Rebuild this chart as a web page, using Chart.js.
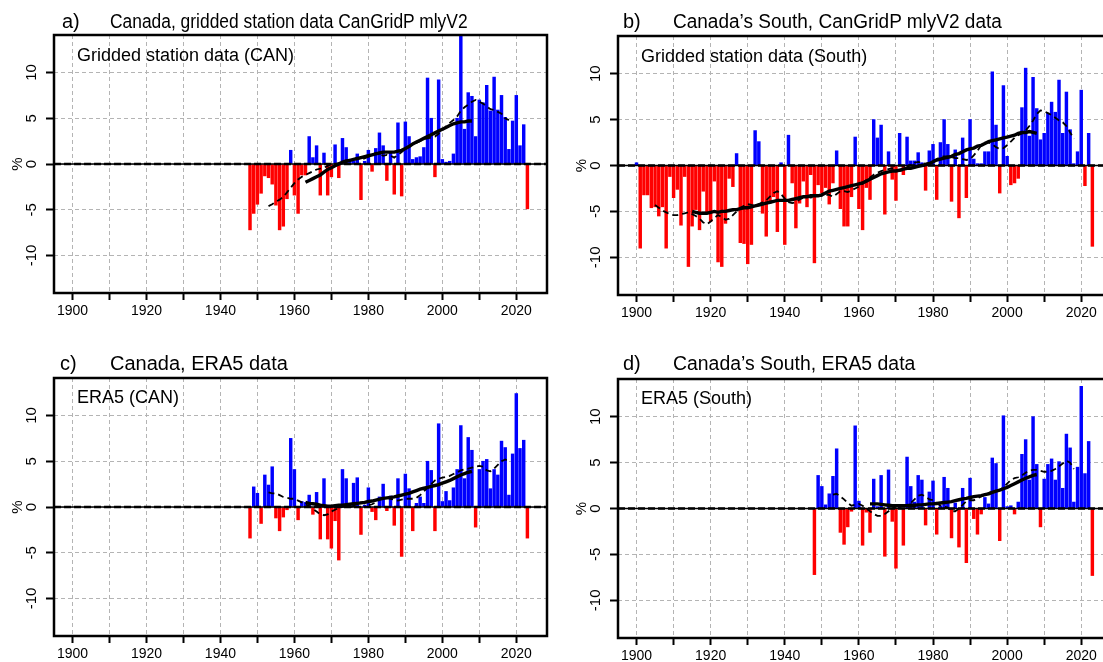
<!DOCTYPE html>
<html><head><meta charset="utf-8">
<script src="https://cdn.jsdelivr.net/npm/chart.js@4.4.1/dist/chart.umd.min.js"></script>
<style>
html,body{margin:0;padding:0;background:#fff;width:1103px;height:662px;overflow:hidden;position:relative}
canvas{position:absolute}
.t{position:absolute;font-family:"Liberation Sans",Arial,sans-serif;font-size:20px;color:#000;white-space:nowrap;line-height:1;transform-origin:0 50%}
.lab{position:absolute;font-family:"Liberation Sans",Arial,sans-serif;font-size:18px;color:#000;white-space:nowrap;line-height:1}
</style></head><body>
<canvas id="ca" width="551" height="335" style="left:0;top:0"></canvas>
<canvas id="cb" width="552" height="337" style="left:564px;top:0"></canvas>
<canvas id="cc" width="551" height="335" style="left:0;top:343px"></canvas>
<canvas id="cd" width="552" height="337" style="left:564px;top:343px"></canvas>

<div class="t" style="left:62px;top:11px">a)</div>
<div class="t" style="left:110px;top:11px;transform:scaleX(0.87)">Canada, gridded station data CanGridP mlyV2</div>
<div class="t" style="left:623px;top:11px">b)</div>
<div class="t" style="left:673px;top:11px;transform:scaleX(0.95)">Canada’s South, CanGridP mlyV2 data</div>
<div class="t" style="left:60px;top:353px">c)</div>
<div class="t" style="left:110px;top:353px">Canada, ERA5 data</div>
<div class="t" style="left:623px;top:353px">d)</div>
<div class="t" style="left:673px;top:353px;transform:scaleX(0.97)">Canada’s South, ERA5 data</div>

<div class="lab" style="left:77px;top:46px">Gridded station data (CAN)</div>
<div class="lab" style="left:641px;top:47px">Gridded station data (South)</div>
<div class="lab" style="left:77px;top:388px">ERA5 (CAN)</div>
<div class="lab" style="left:641px;top:389px">ERA5 (South)</div>

<script>
// ---------- Panel a: Canada, gridded station data (1948-2023) ----------
const aStart = 1948;
const aBars = [-7.2,-5.4,-4.4,-3.2,-1.3,-1.5,-2.2,-4.5,-7.2,-6.8,
  -3.8,1.5,-3.4,-5.4,-1.2,-1.2,3.0,0.7,2.0,-3.4,
  1.2,-3.4,-1.4,2.1,-1.5,2.8,1.8,0.4,0.3,1.1,
  -3.9,0.3,1.5,-0.8,1.7,3.4,2.0,-1.8,1.2,-3.3,
  4.5,-3.5,4.6,3.0,0.5,0.7,0.8,1.8,9.4,5.0,
  -1.4,9.2,0.5,0.2,0.3,1.1,5.0,14.0,3.8,7.8,
  7.4,3.0,7.0,6.7,8.6,5.8,9.5,5.9,7.5,5.1,
  1.6,4.7,7.5,2.0,4.3,-4.9];
const aSolidStart = 1963;
const aSolid = [-2.0,-1.8,-1.6,-1.4,-1.2,-0.9,-0.6,-0.4,-0.2,0.0,
  0.2,0.3,0.4,0.5,0.6,0.7,0.8,0.9,1.0,1.1,
  1.2,1.3,1.3,1.3,1.3,1.4,1.5,1.7,1.9,2.2,
  2.4,2.6,2.8,3.0,3.2,3.4,3.6,3.8,4.0,4.2,
  4.4,4.5,4.6,4.6,4.7,4.7];
const aDashStart = 1953;
const aDash = [-4.6,-4.4,-4.1,-3.9,-3.6,-3.1,-2.6,-2.1,-1.7,-1.4,
  -1.2,-1.0,-0.8,-0.6,-0.5,-0.4,-0.2,-0.1,0.0,0.1,
  0.3,0.4,0.5,0.5,0.6,0.5,0.6,0.8,1.0,1.2,
  1.1,0.9,1.0,0.9,0.7,1.0,1.3,1.7,2.0,2.2,
  2.3,2.5,2.7,2.8,2.9,3.0,3.3,3.7,4.1,4.5,
  4.8,5.2,5.8,6.2,6.5,6.8,7.0,6.8,6.6,6.3,
  6.0,5.9,5.7,5.5,5.0,4.8];

// ---------- Panel b: Canada's South, gridded station data (1900-2023) ----------
const bStart = 1900;
const bBars = [0.3,-9.0,-3.2,-3.2,-4.6,-4.5,-5.5,-4.5,-9.0,-1.2,
  -3.5,-2.6,-6.5,-1.2,-11.0,-6.6,-4.8,-7.0,-2.8,-5.2,
  -6.1,-1.7,-10.5,-11.0,-6.3,-1.4,-2.3,1.3,-8.4,-8.5,
  -10.7,-8.6,3.8,2.6,-5.2,-7.7,-4.1,-3.4,-7.2,0.3,
  -8.6,3.3,-1.9,-6.8,-4.1,-1.7,-4.5,-1.0,-10.6,-2.1,
  -3.0,-2.4,-4.2,-1.9,1.6,-4.7,-6.6,-6.6,-3.4,3.1,
  -4.7,-7.0,-2.4,-3.7,5.0,3.0,4.4,-5.3,1.5,-1.5,
  -3.8,3.5,-1.0,3.1,0.5,0.5,1.4,0.3,-2.7,1.6,
  2.3,-3.7,2.5,5.0,2.3,-3.9,1.7,-5.7,3.0,-3.5,
  5.0,0.7,0.2,0.2,1.5,1.5,10.2,4.4,-3.0,8.7,
  1.0,-2.1,-1.9,-1.4,6.3,10.6,3.2,9.6,6.2,2.8,
  3.5,5.7,6.9,5.8,9.3,3.5,8.0,3.9,0.2,1.5,
  8.2,-2.2,3.5,-8.8];
const bSolidStart = 1915;
const bSolid = [-5.0,-5.1,-5.2,-5.2,-5.2,-5.1,-5.0,-5.1,-5.0,-5.0,
  -4.9,-4.8,-4.8,-4.7,-4.6,-4.6,-4.5,-4.4,-4.3,-4.2,
  -4.1,-4.0,-3.9,-3.8,-3.8,-3.8,-3.8,-3.7,-3.6,-3.5,
  -3.4,-3.4,-3.3,-3.3,-3.3,-3.2,-3.0,-2.8,-2.7,-2.6,
  -2.5,-2.4,-2.3,-2.2,-2.1,-2.0,-1.9,-1.7,-1.5,-1.3,
  -1.1,-0.9,-0.8,-0.7,-0.6,-0.6,-0.5,-0.4,-0.3,-0.3,
  -0.2,-0.1,0.0,0.1,0.2,0.4,0.6,0.7,0.8,0.9,
  1.0,1.2,1.3,1.5,1.7,1.8,1.9,2.1,2.2,2.4,
  2.6,2.7,2.8,2.9,3.0,3.1,3.2,3.3,3.5,3.6,
  3.6,3.7,3.6,3.5];
const bDashStart = 1905;
const bDash = [-4.3,-4.6,-4.9,-5.1,-5.3,-5.4,-5.4,-5.3,-5.2,-5.1,
  -5.3,-5.5,-5.8,-6.2,-6.4,-6.1,-5.7,-5.4,-5.6,-5.9,
  -5.8,-5.4,-5.0,-4.6,-4.4,-4.2,-4.3,-4.4,-4.2,-4.0,
  -3.8,-3.4,-3.0,-2.8,-3.1,-3.6,-4.0,-4.1,-4.0,-3.7,
  -3.5,-3.4,-3.5,-3.4,-3.3,-3.3,-3.2,-3.2,-3.4,-3.1,
  -2.8,-2.8,-2.9,-2.7,-2.5,-2.3,-2.0,-1.6,-1.3,-1.0,
  -0.8,-0.6,-0.5,-0.4,-0.3,-0.4,-0.6,-0.5,-0.2,0.1,
  0.3,0.4,0.3,0.2,0.3,0.5,0.7,0.9,1.0,1.0,
  0.9,0.8,0.8,0.7,0.6,0.7,1.1,1.6,2.2,2.5,
  2.5,2.3,2.0,1.8,1.9,2.2,2.6,3.0,3.3,3.5,
  3.8,4.3,4.9,5.6,6.0,5.9,5.7,5.5,5.2,4.9,
  4.7,4.3,3.6,2.9];

// ---------- Panel c: Canada, ERA5 (1948-2023) ----------
const cStart = 1948;
const cBars = [-3.4,2.2,1.5,-1.8,3.5,2.4,4.4,-1.2,-2.6,-1.1,
  -0.3,7.5,4.1,-1.4,0.6,0.5,1.3,-0.8,1.6,-3.5,
  3.1,-3.5,-4.5,-1.5,-5.8,4.1,3.1,0.3,2.6,3.2,
  -3.0,0.2,2.1,-0.5,-1.4,1.1,2.5,-0.4,1.2,-2.0,
  3.1,-5.4,3.6,2.0,-2.6,0.4,1.1,0.4,5.0,4.0,
  -2.6,9.1,0.6,1.7,0.7,2.1,4.1,8.9,3.1,7.6,
  6.2,-2.2,4.1,5.0,5.2,2.0,4.1,3.5,7.2,6.5,
  1.3,5.8,12.4,6.4,7.3,-3.4];
const cSolidStart = 1963;
const cSolid = [0.5,0.4,0.35,0.3,0.2,0.15,0.1,0.1,0.15,0.2,
  0.2,0.25,0.3,0.35,0.4,0.45,0.5,0.6,0.65,0.75,
  0.85,0.95,1.0,1.05,1.1,1.2,1.3,1.4,1.5,1.65,
  1.8,1.95,2.05,2.15,2.25,2.35,2.45,2.6,2.75,2.9,
  3.1,3.3,3.5,3.65,3.8,3.9];
const cDashStart = 1953;
const cDash = [1.6,1.5,1.5,1.3,1.1,1.0,0.9,0.9,0.7,0.5,
  0.3,0.1,-0.2,-0.5,-0.8,-0.9,-0.8,-0.5,-0.3,-0.1,
  0.0,0.1,0.0,0.1,0.4,0.5,0.4,0.2,0.3,0.5,
  0.8,0.9,1.0,0.9,0.8,0.7,0.8,0.9,0.9,0.9,
  1.0,1.3,1.7,2.1,2.5,2.9,3.1,3.2,3.3,3.4,
  3.6,3.8,4.0,4.1,4.2,4.3,4.4,4.5,4.4,4.0,
  3.9,4.2,4.6,5.0,5.2,5.0];

// ---------- Panel d: Canada's South, ERA5 (1948-2023) ----------
const dStart = 1948;
const dBars = [-7.2,3.6,2.4,0.4,1.6,3.5,6.5,-2.6,-3.9,-2.0,
  -0.3,9.0,0.8,-4.0,-0.4,-2.6,3.2,0.2,3.6,-5.2,
  4.2,-1.4,-6.5,0.3,-4.0,5.6,2.4,0.7,3.6,3.1,
  -1.8,1.8,3.0,-2.8,0.3,3.4,2.2,-3.2,0.6,-4.2,
  2.2,-5.9,3.3,-1.1,-2.8,-0.6,1.2,0.5,5.5,4.9,
  -3.5,10.1,0.2,0.3,-0.6,0.7,5.9,7.5,3.1,10.0,
  4.8,-2.0,3.2,4.8,5.4,3.1,5.1,2.2,8.1,6.6,
  0.7,4.5,13.3,3.8,7.3,-7.3];
const dSolidStart = 1963;
const dSolid = [0.5,0.5,0.5,0.45,0.4,0.35,0.3,0.3,0.3,0.3,
  0.3,0.35,0.35,0.4,0.4,0.45,0.5,0.5,0.55,0.6,
  0.65,0.7,0.75,0.85,0.95,1.05,1.1,1.2,1.3,1.35,
  1.4,1.5,1.6,1.75,1.9,2.0,2.15,2.3,2.5,2.7,
  2.9,3.1,3.3,3.45,3.6,3.7];
const dDashStart = 1953;
const dDash = [1.5,1.6,1.3,1.0,0.6,0.3,0.4,0.5,0.3,0.0,
  -0.3,-0.6,-0.8,-0.8,-0.6,-0.3,0.0,0.2,0.3,0.3,
  0.4,0.6,1.0,1.4,1.5,1.3,1.0,0.9,0.6,0.3,
  0.2,0.1,-0.3,-0.3,0.0,0.4,0.8,0.9,0.9,1.1,
  1.3,1.5,1.7,1.8,1.9,2.0,2.3,2.7,3.1,3.3,
  3.4,3.6,3.9,4.1,4.2,4.2,4.1,4.0,4.0,4.1,
  4.3,4.6,4.9,5.2,5.0,4.3];

// Axis settings
const xMin = 1895, xMax = 2028.3, xStep = 10, xLabelEvery = 20;
const yMin = -14.1, yMax = 14.1, yStep = 5;

const FONT = '"Liberation Sans", Arial, Helvetica, sans-serif';
const pts = (start, arr) => arr.map((v, i) => ({x: start + i, y: v}));

const framePlugin = {
  id: 'frame',
  afterDatasetDraw(chart, args) {
    if (args.index !== 0) return;
    const {ctx, chartArea: a} = chart;
    const y0 = chart.scales.y.getPixelForValue(0);
    ctx.save();
    ctx.strokeStyle = '#000';
    ctx.lineWidth = 1.5;
    ctx.beginPath(); ctx.moveTo(a.left, y0); ctx.lineTo(a.right, y0); ctx.stroke();
    ctx.lineWidth = 2.5;
    ctx.setLineDash([7, 3]);
    ctx.beginPath(); ctx.moveTo(a.left, y0); ctx.lineTo(a.right, y0); ctx.stroke();
    ctx.restore();
  },
  afterDraw(chart) {
    const {ctx, chartArea: a} = chart;
    ctx.save();
    ctx.strokeStyle = '#000';
    ctx.lineWidth = 2.5;
    ctx.strokeRect(a.left, a.top, a.right - a.left, a.bottom - a.top);
    ctx.restore();
  }
};

function makePanel(id, bars, bStartYear, solid, sStart, dash, dStart0, padTop, xH) {
  new Chart(document.getElementById(id), {
    type: 'bar',
    data: {
      datasets: [
        {type: 'bar', data: pts(bStartYear, bars), barThickness: 2.8, borderWidth: 0,
         backgroundColor: c => (c.raw && c.raw.y >= 0) ? '#0000ff' : '#ff0000', order: 3},
        {type: 'line', data: pts(dStart0, dash), borderColor: '#000', borderWidth: 1.8,
         borderDash: [6, 4], pointRadius: 0, tension: 0, fill: false, order: 2},
        {type: 'line', data: pts(sStart, solid), borderColor: '#000', borderWidth: 3.4,
         pointRadius: 0, tension: 0, fill: false, order: 1}
      ]
    },
    options: {
      responsive: false, animation: false, devicePixelRatio: 1,
      layout: {padding: {left: 0, top: padTop, right: 4, bottom: 0}},
      plugins: {legend: {display: false}, tooltip: {enabled: false}, title: {display: false}},
      scales: {
        x: {
          type: 'linear', min: xMin, max: xMax, offset: false,
          ticks: {stepSize: xStep, autoSkip: false, includeBounds: false, maxRotation: 0, minRotation: 0,
            callback: v => (v % xLabelEvery === 0 ? String(v) : ''),
            font: {family: FONT, size: 14}, color: '#000', padding: 3},
          grid: {offset: false, color: '#b4b4b4', lineWidth: 1, drawTicks: true, tickLength: 7,
            tickColor: '#000', tickWidth: 2, tickBorderDash: []},
          border: {display: false, dash: [4, 3]},
          afterFit: s => { s.height = xH; }
        },
        y: {
          type: 'linear', min: yMin, max: yMax,
          ticks: {stepSize: yStep, includeBounds: false, minRotation: 90, maxRotation: 90,
            crossAlign: 'center', padding: 3, font: {family: FONT, size: 15}, color: '#000'},
          grid: {color: '#b4b4b4', lineWidth: 1, drawTicks: true, tickLength: 8,
            tickColor: '#000', tickWidth: 2, tickBorderDash: []},
          border: {display: false, dash: [4, 3]},
          title: {display: true, text: '%', color: '#000', font: {family: FONT, size: 15}, padding: {top: 9, bottom: 0}},
          afterFit: s => { s.width = 54; }
        }
      }
    },
    plugins: [framePlugin]
  });
}

makePanel('ca', aBars, aStart, aSolid, aSolidStart, aDash, aDashStart, 35, 42);
makePanel('cb', bBars, bStart, bSolid, bSolidStart, bDash, bDashStart, 36, 42);
makePanel('cc', cBars, cStart, cSolid, cSolidStart, cDash, cDashStart, 35, 42);
makePanel('cd', dBars, dStart, dSolid, dSolidStart, dDash, dDashStart, 36, 42);
</script>
</body></html>
